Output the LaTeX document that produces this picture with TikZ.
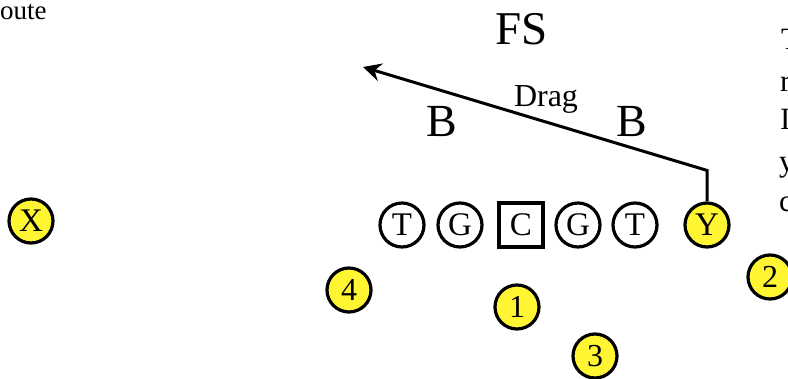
\documentclass[tikz,border=0pt]{standalone}
\usepackage{fontspec}
\setmainfont{Liberation Serif}
\usetikzlibrary{arrows.meta}
\begin{document}
\begin{tikzpicture}[x=1pt,y=-1pt,
  player/.style={circle,draw=black,line width=3.2pt,minimum size=44pt,inner sep=0pt,font=\fontsize{33}{35}\selectfont},
  skill/.style={player,fill=yellow!80!white},
  num/.style={skill,font=\fontsize{32}{34}\selectfont},
  center/.style={rectangle,draw=black,line width=3.2pt,minimum size=44pt,inner sep=0pt,font=\fontsize{33}{35}\selectfont},
  bigtxt/.style={inner sep=0pt,anchor=base,font=\fontsize{46}{48}\selectfont},
  smalltxt/.style={inner sep=0pt,font=\fontsize{27}{29}\selectfont},
  edgetxt/.style={inner sep=0pt,anchor=base west,font=\fontsize{31}{33}\selectfont},
  route/.style={line width=3pt}
]
\useasboundingbox (0,0) rectangle (788,379);
% text
\node[smalltxt,anchor=base west] (rt) at (0,20) {oute};
\node[bigtxt,font=\fontsize{47}{49}\selectfont] (fs) at (522,45) {FS};
\node[bigtxt] (b1) at (442,137) {B};
\node[bigtxt] (b2) at (632,137) {B};
\node[inner sep=0pt,anchor=base,font=\fontsize{32}{34}\selectfont] (drag) at (546,107) {Drag};
% right column letters (clipped at the edge as in the reference)
\node[edgetxt] (r1) at (781,50) {T};
\node[edgetxt] (r2) at (780,92) {r};
\node[edgetxt] (r3) at (780,130) {I};
\node[edgetxt] (r4) at (779,172) {y};
\node[edgetxt] (r5) at (779,212) {c};
% line
\node[player] (t1) at (402,225) {T};
\node[player] (g1) at (460,225) {G};
\node[center] (c) at (521,225) {C};
\node[player] (g2) at (578,225) {G};
\node[player] (t2) at (635,225) {T};
\node[skill] (y) at (707,225) {Y};
\node[skill] (x) at (31,221) {X};
% backs
\node[num] (n4) at (349,290) {4};
\node[num] (n1) at (517,307) {1};
\node[num] (n3) at (595,356) {3};
\node[num] (n2) at (770,277) {2};
% drag route
\coordinate (turn) at ([yshift=31pt]y.north);
\coordinate (tip) at (363,67);
\draw[route,-{Stealth[length=18pt,width=18pt,inset=6pt]}] (y.north) -- (turn) -- (tip);
\end{tikzpicture}
\end{document}
